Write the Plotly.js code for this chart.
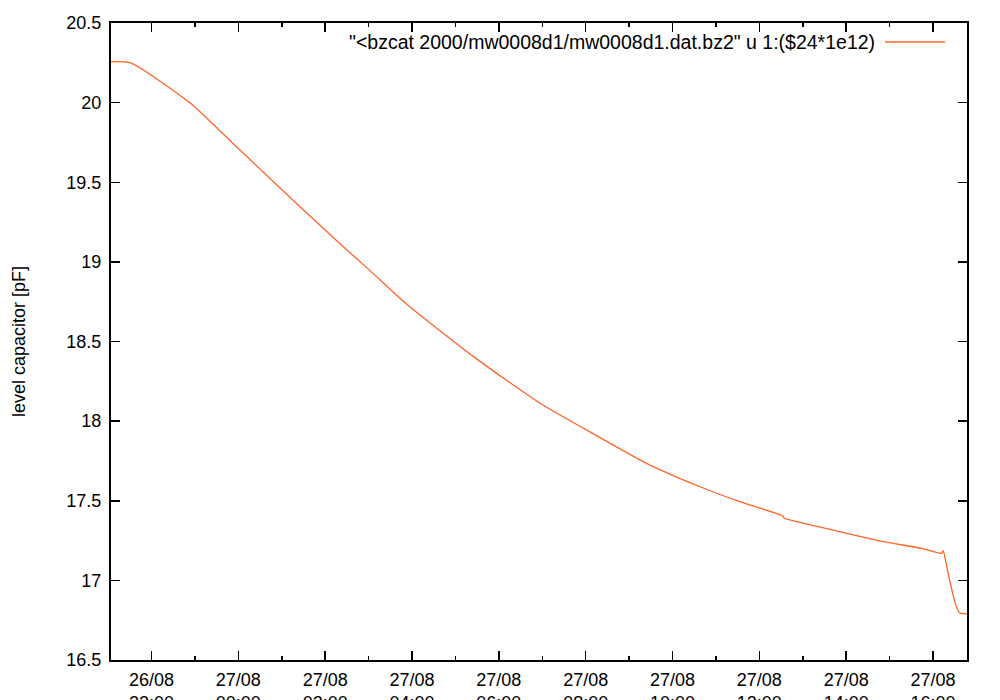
<!DOCTYPE html>
<html>
<head>
<meta charset="utf-8">
<script src="https://cdn.plot.ly/plotly-3.0.1.min.js"></script>
<style>html,body{margin:0;padding:0;background:#fff;}#chart{width:1000px;height:700px;}</style>
</head>
<body>
<div id="chart"></div>
<script>
const times = [
  '2000-08-26 21:04','2000-08-26 21:31','2000-08-26 22:53',
  '2000-08-26 23:34','2000-08-27 00:07','2000-08-27 01:20','2000-08-27 02:25','2000-08-27 03:02',
  '2000-08-27 03:52','2000-08-27 05:25','2000-08-27 06:57','2000-08-27 08:20',
  '2000-08-27 09:24','2000-08-27 10:38','2000-08-27 11:33','2000-08-27 12:32',
  '2000-08-27 12:34','2000-08-27 13:42','2000-08-27 14:51','2000-08-27 15:44',
  '2000-08-27 16:12','2000-08-27 16:14','2000-08-27 16:20','2000-08-27 16:26',
  '2000-08-27 16:32','2000-08-27 16:37','2000-08-27 16:47'
];
const capacitance = [
  20.257, 20.249, 19.999,
  19.825, 19.682, 19.368, 19.095, 18.945,
  18.737, 18.405, 18.112, 17.896,
  17.735, 17.588, 17.494, 17.405,
  17.392, 17.316, 17.243, 17.201,
  17.170, 17.186, 17.065, 16.940,
  16.840, 16.795, 16.790
];
const tickTimes = [
  '2000-08-26 22:00','2000-08-27 00:00','2000-08-27 02:00','2000-08-27 04:00',
  '2000-08-27 06:00','2000-08-27 08:00','2000-08-27 10:00','2000-08-27 12:00',
  '2000-08-27 14:00','2000-08-27 16:00'
];
const tickLabels = [
  '26/08<br>22:00','27/08<br>00:00','27/08<br>02:00','27/08<br>04:00',
  '27/08<br>06:00','27/08<br>08:00','27/08<br>10:00','27/08<br>12:00',
  '27/08<br>14:00','27/08<br>16:00'
];
const seriesName = '"<bzcat 2000/mw0008d1/mw0008d1.dat.bz2" u 1:($24*1e12)';
const lineColor = '#ff6428';

const font = {family: 'Liberation Sans, Arial, sans-serif', size: 18, color: '#000'};

const trace = {
  x: times, y: capacitance, type: 'scatter', mode: 'lines',
  line: {color: lineColor, width: 1.3, shape: 'spline', smoothing: 0.6}, name: seriesName, showlegend: false
};

const layout = {
  width: 1000, height: 700,
  margin: {l: 111, r: 33, t: 23, b: 40},
  paper_bgcolor: '#fff', plot_bgcolor: '#fff',
  font: font,
  showlegend: false,
  xaxis: {
    type: 'date',
    range: ['2000-08-26 21:04', '2000-08-27 16:47'],
    tickmode: 'array', tickvals: tickTimes, ticktext: tickLabels,
    ticks: 'inside', ticklen: 9, tickwidth: 1.5, tickcolor: '#000',
    minor: {tick0: '2000-08-26 23:00', dtick: 7200000, ticks: 'inside', ticklen: 4, tickwidth: 1.5, tickcolor: '#000', showgrid: false},
    showline: true, linecolor: '#000', linewidth: 2, mirror: 'ticks',
    showgrid: false, zeroline: false,
    tickfont: font, ticklabelstandoff: 2
  },
  yaxis: {
    range: [16.5, 20.5], dtick: 0.5, tick0: 16.5,
    ticks: 'inside', ticklen: 9, tickwidth: 1.5, tickcolor: '#000',
    showline: true, linecolor: '#000', linewidth: 2, mirror: 'ticks',
    showgrid: false, zeroline: false,
    tickfont: font, ticklabelstandoff: 4,
    title: {text: 'level capacitor [pF]', font: font, standoff: 36}
  },
  annotations: [{
    xref: 'paper', yref: 'paper', x: (877 - 111) / 856, y: (660 - 42) / 637,
    xanchor: 'right', yanchor: 'middle', showarrow: false,
    text: seriesName, font: {family: font.family, size: 19.5, color: '#000'}
  }],
  shapes: [{
    type: 'line', xref: 'paper', yref: 'paper',
    x0: (885 - 111) / 856, x1: (945 - 111) / 856,
    y0: (660 - 42) / 637, y1: (660 - 42) / 637,
    line: {color: lineColor, width: 1.3}
  }]
};

Plotly.newPlot('chart', [trace], layout, {staticPlot: true, displayModeBar: false});
</script>
</body>
</html>
